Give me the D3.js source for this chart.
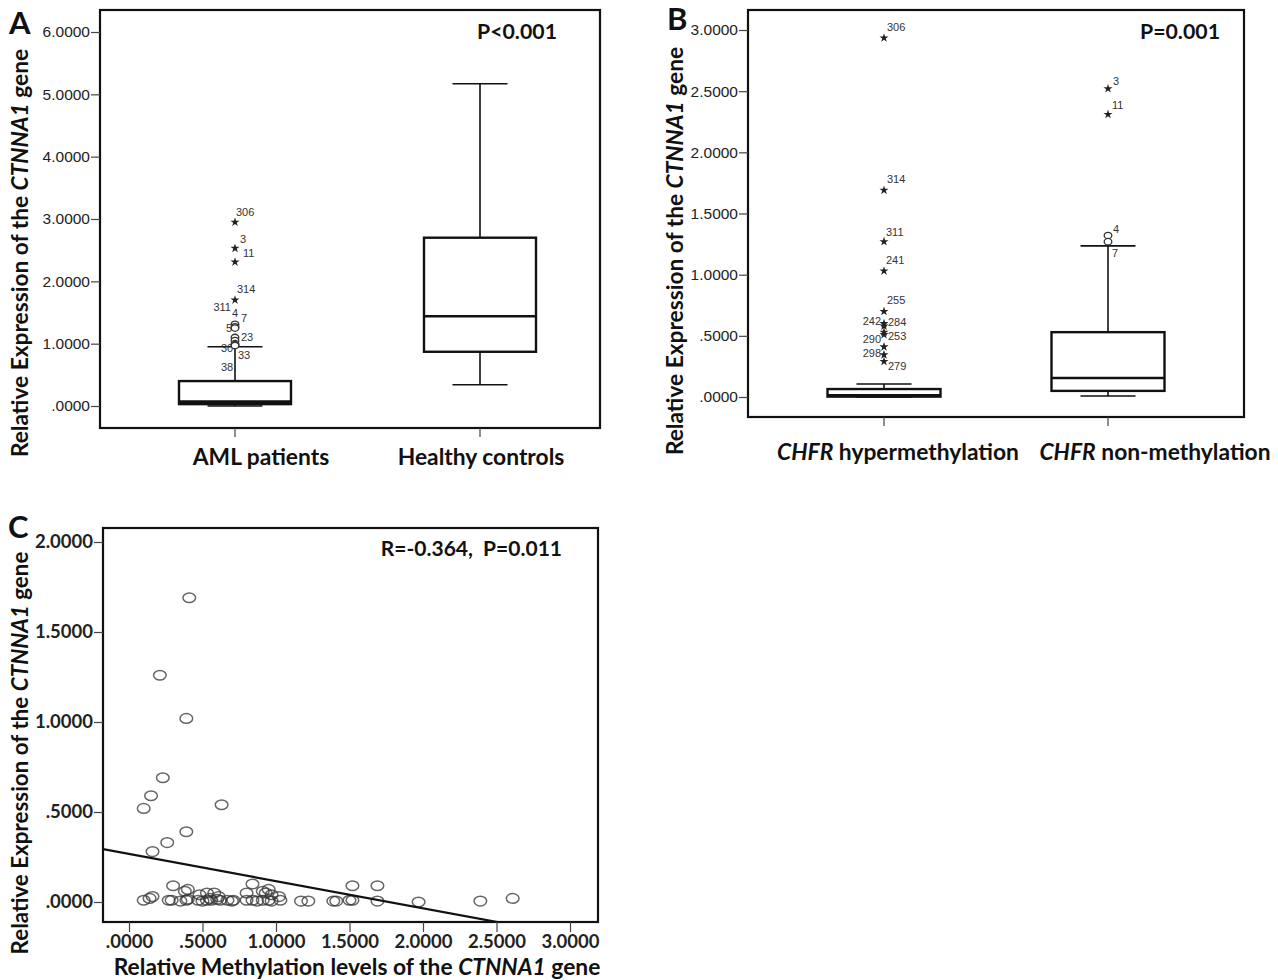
<!DOCTYPE html>
<html>
<head>
<meta charset="utf-8">
<script src="https://cdn.jsdelivr.net/npm/d3@7"></script>
<style>
body { margin: 0; background: #fff; }
svg { display: block; }
text { white-space: pre; }
</style>
</head>
<body>
<svg width="1278" height="980"></svg>
<script>
// ---- data: panel A (AML vs healthy) ----
const catsA = ['AML patients', 'Healthy controls'];
const boxesA = [
    {q1: 0.03, med: 0.07, q3: 0.40, lo: 0.0, hi: 0.95},
    {q1: 0.87, med: 1.44, q3: 2.70, lo: 0.34, hi: 5.17}
];
const outliersA = [
    {id: '306', v: 2.95, star: true}, {id: '3', v: 2.53, star: true},
    {id: '11', v: 2.31, star: true}, {id: '314', v: 1.70, star: true},
    {id: '4', v: 1.31}, {id: '311', v: 1.27}, {id: '7', v: 1.25},
    {id: '5', v: 1.10}, {id: '23', v: 1.05}, {id: '30', v: 1.00},
    {id: '33', v: 0.98}, {id: '38', v: 0.97}
];
const ticksA = [0, 1, 2, 3, 4, 5, 6];
const statA = 'P<0.001';

// ---- data: panel B (CHFR methylation) ----
const catsB = ['hypermethylation', 'non-methylation'];
const boxesB = [
    {q1: 0.003, med: 0.013, q3: 0.065, lo: 0.0, hi: 0.106},
    {q1: 0.05, med: 0.155, q3: 0.53, lo: 0.008, hi: 1.235}
];
const outliersB = [
    [
        {id: '306', v: 2.935, star: true}, {id: '314', v: 1.69, star: true},
        {id: '311', v: 1.27, star: true}, {id: '241', v: 1.03, star: true},
        {id: '255', v: 0.70, star: true}, {id: '242', v: 0.60, star: true},
        {id: '284', v: 0.58, star: true}, {id: '253', v: 0.53, star: true},
        {id: '290', v: 0.51, star: true}, {id: '298', v: 0.41, star: true},
        {id: '', v: 0.345, star: true}, {id: '279', v: 0.29, star: true}
    ],
    [
        {id: '3', v: 2.52, star: true}, {id: '11', v: 2.31, star: true},
        {id: '4', v: 1.32}, {id: '7', v: 1.27}
    ]
];
const ticksB = [0, 0.5, 1, 1.5, 2, 2.5, 3];
const statB = 'P=0.001';

// ---- data: panel C (methylation vs expression) ----
const methX = [0.41, 0.21, 0.39, 0.23, 0.15, 0.10, 0.63, 0.39, 0.26, 0.16,
    0.10, 0.14, 0.27, 0.29, 0.35, 0.39, 0.40, 0.47, 0.50, 0.53, 0.56, 0.60, 0.62,
    0.67, 0.70, 0.71, 0.80, 0.84, 0.87, 0.91, 0.95, 0.97, 1.03, 1.17, 1.22, 1.39,
    1.41, 1.50, 1.52, 1.69, 1.97, 2.39, 2.61,
    0.16, 0.38, 0.48, 0.53, 0.58, 0.61, 0.80, 0.91, 0.93, 0.97, 1.02, 0.55,
    0.30, 0.84, 0.95, 1.52, 1.69, 0.40];
const exprY = [1.69, 1.26, 1.02, 0.69, 0.59, 0.52, 0.54, 0.39, 0.33, 0.28,
    0.01, 0.02, 0.01, 0.01, 0.005, 0.01, 0.015, 0.01, 0.005, 0.01, 0.01, 0.015, 0.01,
    0.01, 0.005, 0.01, 0.01, 0.01, 0.005, 0.01, 0.01, 0.005, 0.01, 0.005, 0.005, 0.005,
    0.005, 0.01, 0.01, 0.005, 0.0, 0.005, 0.02,
    0.03, 0.06, 0.04, 0.05, 0.05, 0.03, 0.05, 0.06, 0.05, 0.04, 0.03, 0.02,
    0.09, 0.10, 0.07, 0.09, 0.09, 0.07];
const fitLine = {intercept: 0.267, slope: -0.151};
const ticksCx = [0, 0.5, 1, 1.5, 2, 2.5, 3];
const ticksCy = [0, 0.5, 1, 1.5, 2];
const statC = 'R=-0.364,  P=0.011';

// label nudges for outlier numbers (pixels from the point)
const nudgeA = {
    '306': [1, -6], '3': [5, -5], '11': [8, -5], '314': [2, -7],
    '311': [-4, -16, 'end'], '4': [-3, -7], '7': [6, -6], '5': [-9, -5],
    '23': [6, 0], '30': [-14, 8], '33': [3, 14], '38': [-14, 25]
};
const nudgeB = [
    {'306': [3, -7], '314': [3, -7], '311': [2, -6], '241': [2, -7], '255': [3, -7],
     '242': [-3, 1, 'end'], '284': [4, 0], '253': [4, 8], '290': [-3, 8, 'end'],
     '298': [-3, 10, 'end'], '279': [4, 8]},
    {'3': [5, -4], '11': [4, -5], '4': [5, -3], '7': [4, 15]}
];

const BOLD = 'Lato, "Open Sans", sans-serif';
const ARIAL = '"Liberation Sans", Arial, sans-serif';
const svg = d3.select('svg');
svg.append('rect').attr('width', 1278).attr('height', 980).attr('fill', '#fff');

function fmt(v) {
    const s = d3.format('.4f')(v);
    return s.startsWith('0.') ? s.slice(1) : s;
}

function frame(box) {
    svg.append('rect')
        .attr('x', box.x0).attr('y', box.y0)
        .attr('width', box.x1 - box.x0).attr('height', box.y1 - box.y0)
        .attr('fill', 'none').attr('stroke', '#111').attr('stroke-width', 2.2);
}

function yAxis(y, x0, ticks, font, size, weight) {
    const g = svg.append('g')
        .attr('transform', `translate(${x0},0)`)
        .call(d3.axisLeft(y).tickValues(ticks).tickFormat(fmt).tickSize(9).tickPadding(1));
    g.select('.domain').remove();
    g.selectAll('line').attr('stroke', '#444').attr('stroke-width', 1.2);
    g.selectAll('text').attr('font-family', font).attr('font-size', size)
        .attr('font-weight', weight).attr('fill', '#222');
    return g;
}

function yTitle(cx, cy, size) {
    const t = svg.append('text')
        .attr('transform', `translate(${cx},${cy}) rotate(-90)`)
        .attr('text-anchor', 'middle')
        .attr('font-family', BOLD).attr('font-weight', 700).attr('font-size', size)
        .attr('fill', '#111');
    t.append('tspan').text('Relative Expression of the ');
    t.append('tspan').attr('font-style', 'italic').text('CTNNA1');
    t.append('tspan').text(' gene');
}

function boldText(x, y, s, size, anchor) {
    return svg.append('text').attr('x', x).attr('y', y)
        .attr('text-anchor', anchor || 'start')
        .attr('font-family', BOLD).attr('font-weight', 700).attr('font-size', size)
        .attr('fill', '#111').text(s);
}

function drawBox(x, y, b, boxW, capW) {
    const g = svg.append('g').attr('stroke', '#111').attr('fill', 'none');
    g.append('line').attr('x1', x).attr('x2', x).attr('y1', y(b.hi)).attr('y2', y(b.q3)).attr('stroke-width', 1.6);
    g.append('line').attr('x1', x).attr('x2', x).attr('y1', y(b.q1)).attr('y2', y(b.lo)).attr('stroke-width', 1.6);
    [b.hi, b.lo].forEach(v => {
        g.append('line').attr('x1', x - capW / 2).attr('x2', x + capW / 2)
            .attr('y1', y(v)).attr('y2', y(v)).attr('stroke-width', 1.6);
    });
    g.append('rect').attr('x', x - boxW / 2).attr('y', y(b.q3))
        .attr('width', boxW).attr('height', y(b.q1) - y(b.q3))
        .attr('fill', '#fff').attr('stroke-width', 2.4);
    g.append('line').attr('x1', x - boxW / 2).attr('x2', x + boxW / 2)
        .attr('y1', y(b.med)).attr('y2', y(b.med)).attr('stroke-width', 2.6);
}

const star = d3.symbol().type(d3.symbolStar).size(26);

function drawOutliers(x, y, pts, nudge) {
    pts.forEach(p => {
        const py = y(p.v);
        if (p.star) {
            svg.append('path').attr('d', star).attr('transform', `translate(${x},${py})`).attr('fill', '#222');
        } else {
            svg.append('ellipse').attr('cx', x).attr('cy', py).attr('rx', 3.8).attr('ry', 3.2)
                .attr('fill', '#fff').attr('stroke', '#333').attr('stroke-width', 1.3);
        }
        const n = nudge[p.id];
        if (p.id && n) {
            svg.append('text').attr('x', x + n[0]).attr('y', py + n[1])
                .attr('text-anchor', n[2] || 'start')
                .attr('font-family', ARIAL).attr('font-size', 11).attr('fill', '#333')
                .text(p.id);
        }
    });
}

function catTicks(x, cats, yb) {
    cats.forEach(c => {
        svg.append('line').attr('x1', x(c)).attr('x2', x(c)).attr('y1', yb).attr('y2', yb + 9)
            .attr('stroke', '#444').attr('stroke-width', 1.2);
    });
}

// ---------- Panel A ----------
const boxA = {x0: 100, x1: 600, y0: 10, y1: 428};
const yA = d3.scaleLinear().domain([0, 6]).range([406, 32]);
const xA = d3.scalePoint().domain(catsA).range([235, 480]);
catsA.forEach((c, i) => drawBox(xA(c), yA, boxesA[i], 112, 55));
drawOutliers(xA(catsA[0]), yA, outliersA, nudgeA);
frame(boxA);
yAxis(yA, boxA.x0, ticksA, ARIAL, 15.5, 400);
catTicks(xA, catsA, boxA.y1);
boldText(261, 465, catsA[0], 22.8, 'middle');
boldText(481, 465, catsA[1], 22.8, 'middle');
yTitle(28, 253, 22.7);
boldText(557, 39, statA, 21.3, 'end');
boldText(9, 34, 'A', 31);

// ---------- Panel B ----------
const boxB = {x0: 748, x1: 1244, y0: 10, y1: 417};
const yB = d3.scaleLinear().domain([0, 3]).range([397, 30]);
const xB = d3.scalePoint().domain(catsB).range([884, 1108]);
catsB.forEach((c, i) => drawBox(xB(c), yB, boxesB[i], 113, 55));
catsB.forEach((c, i) => drawOutliers(xB(c), yB, outliersB[i], nudgeB[i]));
frame(boxB);
yAxis(yB, boxB.x0, ticksB, ARIAL, 15.5, 400);
catTicks(xB, catsB, boxB.y1);
[[898, catsB[0]], [1155, catsB[1]]].forEach(([cx, s]) => {
    const t = svg.append('text').attr('x', cx).attr('y', 460).attr('text-anchor', 'middle')
        .attr('font-family', BOLD).attr('font-weight', 700).attr('font-size', 22.8).attr('fill', '#111');
    t.append('tspan').attr('font-style', 'italic').text('CHFR');
    t.append('tspan').text(' ' + s);
});
yTitle(683, 251, 22.7);
boldText(1220, 39, statB, 21.3, 'end');
boldText(667, 30, 'B', 31);

// ---------- Panel C ----------
const boxC = {x0: 103, x1: 598, y0: 528, y1: 922};
const xC = d3.scaleLinear().domain([0, 3]).range([129, 570]);
const yC = d3.scaleLinear().domain([0, 2]).range([902, 542]);

svg.append('clipPath').attr('id', 'clipC').append('rect')
    .attr('x', boxC.x0).attr('y', boxC.y0)
    .attr('width', boxC.x1 - boxC.x0).attr('height', boxC.y1 - boxC.y0);

const pts = methX.map((x, i) => ({x: x, y: exprY[i]}));
svg.append('g').selectAll('ellipse').data(pts).join('ellipse')
    .attr('cx', d => xC(d.x)).attr('cy', d => yC(d.y))
    .attr('rx', 6.3).attr('ry', 4.8)
    .attr('fill', 'none').attr('stroke', '#333').attr('stroke-opacity', 0.75).attr('stroke-width', 1.5);

const xs = [xC.invert(boxC.x0), xC.invert(boxC.x1)];
svg.append('line').attr('clip-path', 'url(#clipC)')
    .attr('x1', xC(xs[0])).attr('y1', yC(fitLine.intercept + fitLine.slope * xs[0]))
    .attr('x2', xC(xs[1])).attr('y2', yC(fitLine.intercept + fitLine.slope * xs[1]))
    .attr('stroke', '#111').attr('stroke-width', 2.2);

frame(boxC);
yAxis(yC, boxC.x0, ticksCy, BOLD, 18.5, 700);
const gx = svg.append('g')
    .attr('transform', `translate(0,${boxC.y1})`)
    .call(d3.axisBottom(xC).tickValues(ticksCx).tickFormat(fmt).tickSize(10).tickPadding(3));
gx.select('.domain').remove();
gx.selectAll('line').attr('stroke', '#444').attr('stroke-width', 1.2);
gx.selectAll('text').attr('font-family', BOLD).attr('font-size', 18.5).attr('font-weight', 700).attr('fill', '#222');

const tC = svg.append('text').attr('x', 357).attr('y', 975).attr('text-anchor', 'middle')
    .attr('font-family', BOLD).attr('font-weight', 700).attr('font-size', 22.8).attr('fill', '#111');
tC.append('tspan').text('Relative Methylation levels of the ');
tC.append('tspan').attr('font-style', 'italic').text('CTNNA1');
tC.append('tspan').text(' gene');
yTitle(28, 753, 22.4);
boldText(562, 556, statC, 21, 'end');
boldText(8, 538, 'C', 31);
</script>
</body>
</html>
